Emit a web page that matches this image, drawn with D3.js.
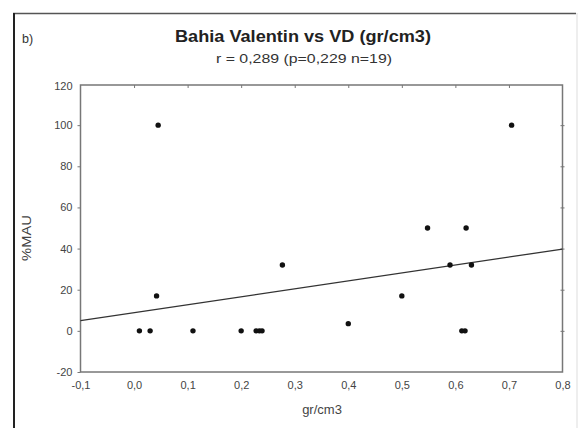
<!DOCTYPE html>
<html><head><meta charset="utf-8">
<script src="https://cdn.jsdelivr.net/npm/d3@7/dist/d3.min.js"></script>
<style>body{margin:0;background:#fff}svg{display:block;font-family:"Liberation Sans",Arial,sans-serif}</style>
</head><body><svg id="c" width="585" height="428"></svg>
<script>
const xValues = [0.01, 0.03, 0.045, 0.042, 0.11, 0.2, 0.228, 0.234, 0.239, 0.277, 0.40, 0.50, 0.548, 0.59, 0.62, 0.63, 0.612, 0.618, 0.705];
const yValues = [0, 0, 100, 17, 0, 0, 0, 0, 0, 32, 3.5, 17, 50, 32, 50, 32, 0, 0, 100];
const xTicks = [-0.1, 0, 0.1, 0.2, 0.3, 0.4, 0.5, 0.6, 0.7, 0.8];
const yTicks = [-20, 0, 20, 40, 60, 80, 100, 120];
const regIntercept = 8.8, regSlope = 38.7;
const titleText = "Bahia Valentin vs VD (gr/cm3)";
const subtitleText = "r = 0,289 (p=0,229 n=19)";
const panelLabel = "b)";
const xLabel = "gr/cm3", yLabel = "%MAU";

const svg = d3.select("#c");
const L = 80.5, R = 562.5, T = 85, B = 372;
const x = d3.scaleLinear().domain([-0.1, 0.8]).range([L, R]);
const y = d3.scaleLinear().domain([-20, 120]).range([B, 84]);
const fixMinus = s => s.replace(/\u2212/g, "-");
const fmtX = d => fixMinus(d3.format(".1f")(d).replace(".", ","));
const fmtY = d => fixMinus(d3.format("d")(d));

// outer frame
svg.append("line").attr("x1",13).attr("x2",576).attr("y1",13.5).attr("y2",13.5).attr("stroke","#555").attr("stroke-width",1.5);
svg.append("line").attr("x1",14).attr("x2",14).attr("y1",13).attr("y2",428).attr("stroke","#222").attr("stroke-width",2);
svg.append("line").attr("x1",577).attr("x2",577).attr("y1",13).attr("y2",428).attr("stroke","#ddd").attr("stroke-width",1);

// titles
svg.append("text").attr("x",22).attr("y",43).attr("font-size",12.5).attr("fill","#333").text(panelLabel);
svg.append("text").attr("x",303).attr("y",42).attr("text-anchor","middle").attr("font-size",16.5).attr("font-weight","bold").attr("fill","#222")
  .attr("textLength",256).attr("lengthAdjust","spacingAndGlyphs").text(titleText);
svg.append("text").attr("x",304).attr("y",63).attr("text-anchor","middle").attr("font-size",12).attr("fill","#333")
  .attr("textLength",176).attr("lengthAdjust","spacingAndGlyphs").text(subtitleText);

// plot frame
svg.append("rect").attr("x",L).attr("y",T).attr("width",R-L).attr("height",B-T).attr("fill","none").attr("stroke","#777").attr("stroke-width",1.5);

// left axis ticks (outward) and labels
const gl = svg.append("g").attr("transform",`translate(${L},0)`);
gl.call(d3.axisLeft(y).tickValues(yTicks).tickSize(3).tickPadding(5).tickFormat(fmtY));
gl.select(".domain").remove();
gl.selectAll(".tick line").attr("stroke","#777");
gl.selectAll(".tick text").attr("font-size",11).attr("fill","#444").attr("font-family","Liberation Sans, Arial, sans-serif");
gl.selectAll(".tick").filter(d=>d===120).attr("transform",`translate(0,${T+1})`).select("line").remove();

// right axis ticks (crossing)
const gr = svg.append("g").attr("transform",`translate(${R},0)`);
gr.call(d3.axisRight(y).tickValues(yTicks.filter(d=>d>-20&&d<120)).tickSize(2).tickFormat(""));
gr.select(".domain").remove();
gr.selectAll(".tick line").attr("stroke","#777").attr("x1",-2);

// top ticks (inward)
const gt = svg.append("g").attr("transform",`translate(0,${T})`);
gt.call(d3.axisBottom(x).tickValues(xTicks.filter(d=>d>-0.1&&d<0.8)).tickSize(3).tickFormat(""));
gt.select(".domain").remove();
gt.selectAll(".tick line").attr("stroke","#777");

// bottom labels
const gb = svg.append("g").attr("transform",`translate(0,${B})`);
gb.call(d3.axisBottom(x).tickValues(xTicks).tickSize(0).tickPadding(9).tickFormat(fmtX));
gb.select(".domain").remove();
gb.selectAll(".tick text").attr("font-size",11).attr("fill","#444").attr("font-family","Liberation Sans, Arial, sans-serif");

// axis titles
svg.append("text").attr("x",322).attr("y",414).attr("text-anchor","middle").attr("font-size",13).attr("fill","#444").text(xLabel);
svg.append("text").attr("transform","translate(31,238) rotate(-90)").attr("text-anchor","middle").attr("font-size",12).attr("fill","#444")
  .attr("textLength",46).attr("lengthAdjust","spacingAndGlyphs").text(yLabel);

// regression line
svg.append("line")
  .attr("x1",x(-0.1)).attr("y1",y(regIntercept+regSlope*-0.1))
  .attr("x2",x(0.8)).attr("y2",y(regIntercept+regSlope*0.8))
  .attr("stroke","#333").attr("stroke-width",1.3);

// points
svg.append("g").selectAll("circle").data(xValues.map((v,i)=>[v,yValues[i]])).join("circle")
  .attr("cx",d=>x(d[0])).attr("cy",d=>y(d[1])).attr("r",2.7).attr("fill","#111");
</script></body></html>
